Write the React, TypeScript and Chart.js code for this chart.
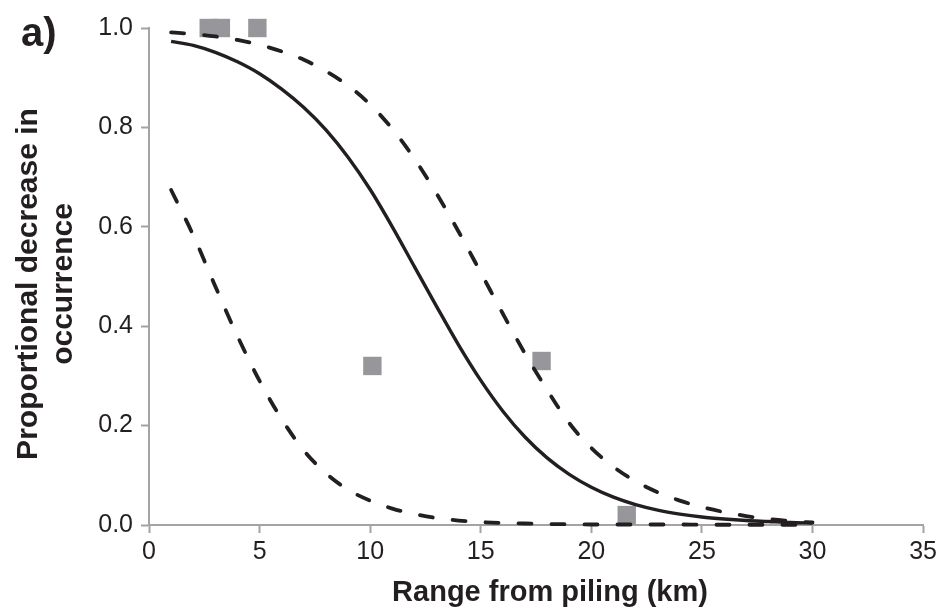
import React, { useEffect, useRef } from "react";
import { Chart, registerables } from "chart.js";

Chart.register(...registerables);

// Range from piling (km) at which the fitted curves were read
const DIST = [1, 2, 3, 4, 5, 6, 7, 8, 9, 10, 11, 12, 13, 14, 15, 16, 17, 18, 19, 20, 21, 22, 23, 24, 25, 26, 27, 28, 29, 30];
// Fitted proportional decrease (solid line)
const FIT = [0.973, 0.965, 0.951, 0.932, 0.908, 0.877, 0.84, 0.795, 0.74, 0.675, 0.6, 0.52, 0.44, 0.362, 0.291, 0.229, 0.177, 0.135, 0.102, 0.076, 0.056, 0.041, 0.03, 0.022, 0.016, 0.012, 0.009, 0.007, 0.005, 0.004];
// Upper confidence limit (dashed)
const UPPER = [0.991, 0.988, 0.983, 0.976, 0.966, 0.953, 0.936, 0.913, 0.884, 0.846, 0.797, 0.737, 0.667, 0.59, 0.508, 0.425, 0.345, 0.272, 0.205, 0.155, 0.117, 0.088, 0.066, 0.049, 0.036, 0.026, 0.018, 0.012, 0.008, 0.005];
// Lower confidence limit (dashed)
const LOWER = [0.674, 0.583, 0.48, 0.38, 0.29, 0.213, 0.15, 0.104, 0.071, 0.049, 0.033, 0.022, 0.014, 0.009, 0.006, 0.004, 0.003, 0.002, 0.0015, 0.001, 0.001, 0.001, 0.001, 0.001, 0.0005, 0.0005, 0.0005, 0.0005, 0.0005, 0.0005];
// Observed values (grey squares)
const OBS_X = [2.7, 3.25, 4.9, 10.1, 17.75, 21.6];
const OBS_Y = [1.0, 1.0, 1.0, 0.32, 0.33, 0.02];

const X_MIN = 0;
const X_MAX = 35;
const X_STEP = 5;
const Y_MIN = 0;
const Y_MAX = 1;
const Y_STEP = 0.2;

const PANEL_LABEL = "a)";
const X_TITLE = "Range from piling (km)";
const Y_TITLE = ["Proportional decrease in", "occurrence"];

const INK = "#231f20";
const AXIS = "#a3a3a6";
const SQUARE = "#97979b";
const FONT = '"Liberation Sans", Arial, Helvetica, sans-serif';

const titlePlugin = {
  id: "panelTitles",
  afterDraw(chart: any) {
    const ctx = chart.ctx as CanvasRenderingContext2D;
    ctx.save();
    ctx.fillStyle = INK;
    ctx.textBaseline = "alphabetic";
    ctx.textAlign = "left";
    ctx.font = `bold 40px ${FONT}`;
    ctx.fillText(PANEL_LABEL, 21, 46);

    ctx.textAlign = "center";
    ctx.font = `bold 29px ${FONT}`;
    ctx.fillText(X_TITLE, 550, 601);

    ctx.font = `bold 30px ${FONT}`;
    ctx.translate(37, 284);
    ctx.rotate(-Math.PI / 2);
    ctx.fillText(Y_TITLE[0], 0, 0);
    ctx.fillText(Y_TITLE[1], 0, 35);
    ctx.restore();
  },
};

export default function App() {
  const ref = useRef<HTMLCanvasElement | null>(null);

  useEffect(() => {
    if (!ref.current) return;
    const toXY = (xs: number[], ys: number[]) => xs.map((x, i) => ({ x, y: ys[i] }));
    const chart = new Chart(ref.current, {
      type: "line",
      data: {
        datasets: [
          {
            type: "scatter",
            label: "Observed",
            data: toXY(OBS_X, OBS_Y),
            pointStyle: "rect",
            pointRadius: 13,
            backgroundColor: SQUARE,
            borderWidth: 0,
            showLine: false,
            clip: false,
            order: 10,
          } as any,
          {
            label: "Upper",
            data: toXY(DIST, UPPER),
            borderColor: INK,
            borderWidth: 3.8,
            borderDash: [13, 20],
            borderCapStyle: "round",
            pointRadius: 0,
            cubicInterpolationMode: "monotone",
            fill: false,
            clip: false,
            order: 1,
          } as any,
          {
            label: "Lower",
            data: toXY(DIST, LOWER),
            borderColor: INK,
            borderWidth: 3.8,
            borderDash: [13, 20],
            borderCapStyle: "round",
            pointRadius: 0,
            cubicInterpolationMode: "monotone",
            fill: false,
            clip: false,
            order: 1,
          } as any,
          {
            label: "Fit",
            data: toXY(DIST, FIT),
            borderColor: INK,
            borderWidth: 3.4,
            pointRadius: 0,
            cubicInterpolationMode: "monotone",
            fill: false,
            clip: false,
            order: 0,
          } as any,
        ],
      },
      options: {
        responsive: false,
        animation: false,
        events: [],
        layout: { padding: { top: 28, right: 17, left: 0, bottom: 0 } },
        plugins: {
          legend: { display: false },
          tooltip: { enabled: false },
          title: { display: false },
        },
        scales: {
          x: {
            type: "linear",
            min: X_MIN,
            max: X_MAX,
            ticks: {
              stepSize: X_STEP,
              color: INK,
              padding: 4,
              font: { family: FONT, size: 25 },
              maxRotation: 0,
            },
            grid: {
              drawOnChartArea: false,
              drawTicks: true,
              tickLength: 8,
              tickColor: AXIS,
              tickWidth: 2,
            },
            border: { color: AXIS, width: 2 },
            afterFit: (s: any) => {
              s.height = 89;
            },
          },
          y: {
            type: "linear",
            min: Y_MIN,
            max: Y_MAX,
            ticks: {
              stepSize: Y_STEP,
              color: INK,
              padding: 8,
              font: { family: FONT, size: 25 },
              callback: (v: any) => Number(v).toFixed(1),
            },
            grid: {
              drawOnChartArea: false,
              drawTicks: true,
              tickLength: 8,
              tickColor: AXIS,
              tickWidth: 2,
            },
            border: { color: AXIS, width: 2 },
            afterFit: (s: any) => {
              s.width = 149;
            },
          },
        },
      },
      plugins: [titlePlugin],
    } as any);
    return () => chart.destroy();
  }, []);

  return (
    <div style={{ position: "fixed", left: 0, top: 0, width: 941, height: 614, background: "#fff" }}>
      <canvas ref={ref} width={941} height={614} style={{ display: "block" }} />
    </div>
  );
}
